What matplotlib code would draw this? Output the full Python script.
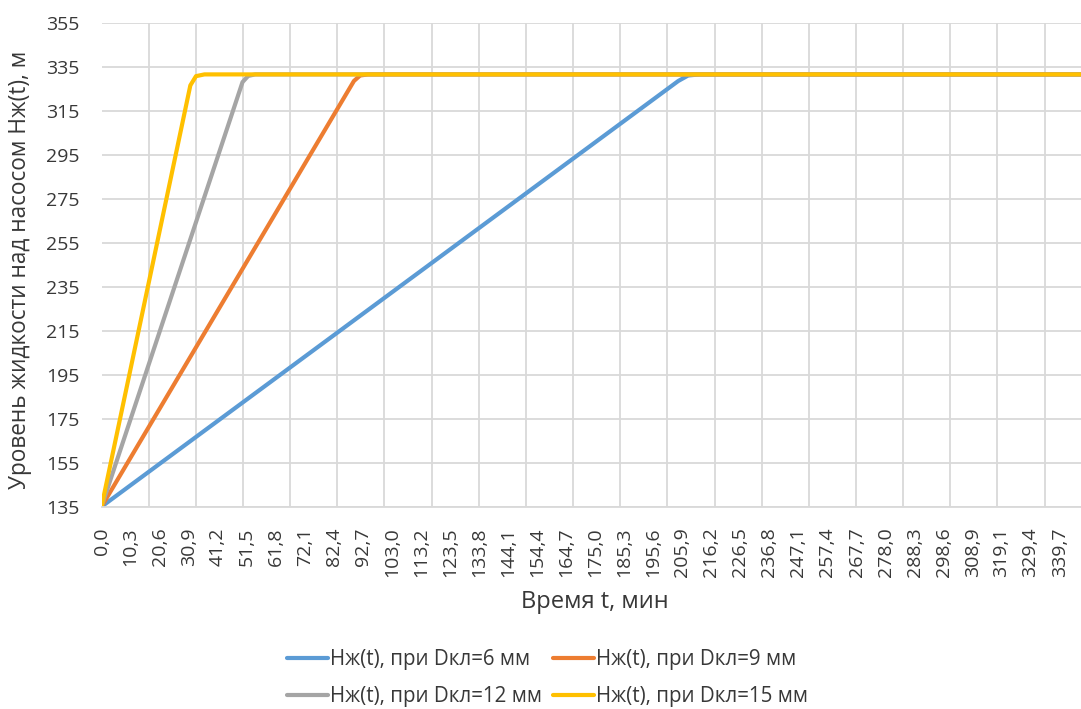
import matplotlib
matplotlib.use("Agg")
import matplotlib.pyplot as plt
import numpy as np

plt.rcParams['font.family'] = ['Open Sans', 'DejaVu Sans']

# x tick labels (category axis of the original chart)
tick_labels = ["0,0", "10,3", "20,6", "30,9", "41,2", "51,5", "61,8", "72,1", "82,4",
               "92,7", "103,0", "113,2", "123,5", "133,8", "144,1", "154,4", "164,7",
               "175,0", "185,3", "195,6", "205,9", "216,2", "226,5", "236,8", "247,1",
               "257,4", "267,7", "278,0", "288,3", "298,6", "308,9", "319,1", "329,4", "339,7"]

# series: (time, level)
t_6 = [0, 204.5, 208, 212, 348]
h_6 = [135, 328.5, 331, 331.5, 331.5]
t_9 = [0, 89.5, 91.7, 94.5, 348]
h_9 = [135, 328.5, 331, 331.5, 331.5]
t_12 = [0, 50.0, 52.0, 54.5, 348]
h_12 = [135, 328.0, 330.8, 331.5, 331.5]
t_15 = [0, 31.5, 33.5, 36.5, 348]
h_15 = [135, 326.5, 330.7, 331.5, 331.5]

labels = ["Нж(t), при Dкл=6 мм", "Нж(t), при Dкл=9 мм",
          "Нж(t), при Dкл=12 мм", "Нж(t), при Dкл=15 мм"]
colors = ["#5B9BD5", "#ED7D31", "#A5A5A5", "#FFC000"]
txt = '#383838'

W, H = 1081, 709
fig = plt.figure(figsize=(W / 100, H / 100), dpi=100)
ax = fig.add_axes([101.5 / W, 1 - 506.7 / H, 1 - 101.5 / W, (506.7 - 22.7) / H])

lines = []
for t, h, c, lab in zip([t_6, t_9, t_12, t_15], [h_6, h_9, h_12, h_15], colors, labels):
    ln, = ax.plot(t, h, color=c, lw=3, label=lab, solid_capstyle='round',
                  solid_joinstyle='round')
    lines.append(ln)

ax.set_xlim(0, 347.3)
ax.set_ylim(135, 355)
ax.set_yticks(np.arange(135, 356, 20))

tick_pos = [float(s.replace(',', '.')) for s in tick_labels]
ax.set_xticks(tick_pos)
ax.set_xticklabels(tick_labels, rotation=90)
ax.set_xticks(np.arange(0, 347, 16.72), minor=True)

ax.grid(False)
ax.grid(True, which='minor', axis='x', color='#D9D9D9', lw=1.3)
ax.grid(True, which='major', axis='y', color='#D9D9D9', lw=1.3)
for s in ['top', 'right', 'left']:
    ax.spines[s].set_visible(False)
ax.spines['bottom'].set_color('#D9D9D9')
ax.spines['bottom'].set_linewidth(1.3)
ax.tick_params(axis='both', which='both', length=0, labelsize=14, colors=txt)
ax.tick_params(axis='y', pad=16)
ax.tick_params(axis='x', pad=15)
ax.set_axisbelow(True)

ax.set_xlabel("Время t, мин", fontsize=17, color=txt)
ax.xaxis.set_label_coords(0.504, -0.172)
ax.set_ylabel("Уровень жидкости над насосом Нж(t), м", fontsize=16.3, color=txt)
ax.yaxis.set_label_coords(-0.071, 0.49)

# legend filled row by row, like the original
order = [0, 2, 1, 3]
fig.legend([lines[i] for i in order], [labels[i] for i in order],
           loc='center', bbox_to_anchor=(547.5 / W, 1 - 678 / H), ncol=2, frameon=False,
           fontsize=14.8, handlelength=2.0, handletextpad=0.12, columnspacing=0.5,
           labelspacing=0.8, labelcolor=txt, borderpad=0.2)

fig.savefig("out.png", dpi=100)
